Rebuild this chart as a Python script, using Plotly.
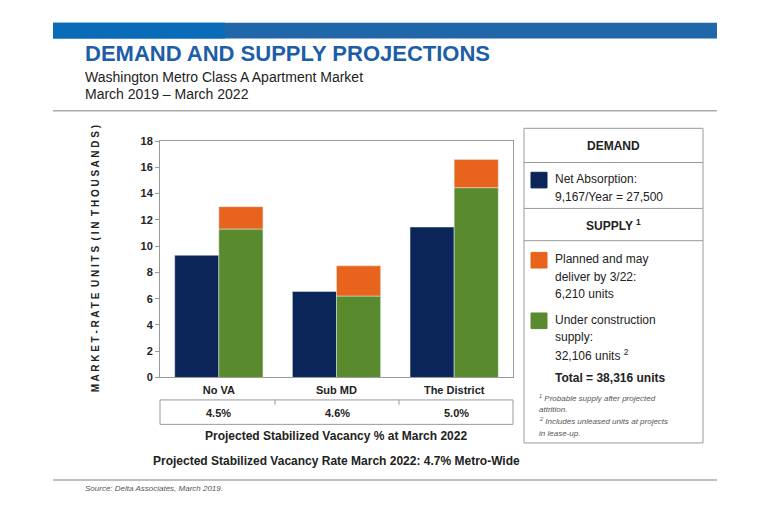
import plotly.graph_objects as go

W, H = 768, 523
categories = ["No VA", "Sub MD", "The District"]
net_absorption = [9.3, 6.55, 11.45]
under_construction = [11.3, 6.2, 14.45]
planned = [1.7, 2.3, 2.15]
vacancy = ["4.5%", "4.6%", "5.0%"]

NAVY = "#0b2559"
GREEN = "#5a8a2e"
ORANGE = "#e8631c"
FONT = "Liberation Sans, Arial"

# the page adds an 8px body margin, so shift everything back
def px(x):
    return (x - 8) / W

def py(y):
    return 1 - (y - 8) / H

fig = go.Figure()
fig.add_bar(x=categories, y=net_absorption, marker_color=NAVY, offsetgroup="a", showlegend=False)
fig.add_bar(x=categories, y=under_construction, marker_color=GREEN, offsetgroup="b", showlegend=False)
fig.add_bar(x=categories, y=planned, base=under_construction, marker_color=ORANGE, offsetgroup="b", showlegend=False)

shapes = []
ann = []

def rect(x0, y0, x1, y1, fill=None, line="#9a9a9a", lw=1):
    shapes.append(dict(type="rect", xref="paper", yref="paper", x0=px(x0), x1=px(x1), y0=py(y1), y1=py(y0),
                       fillcolor=fill or "rgba(0,0,0,0)", line=dict(color=line, width=lw), layer="below"))

def hline(x0, x1, y, color="#9a9a9a", lw=1):
    shapes.append(dict(type="line", xref="paper", yref="paper", x0=px(x0), x1=px(x1), y0=py(y), y1=py(y),
                       line=dict(color=color, width=lw)))

def text(x, y, t, size=12, color="#222", bold=False, xanchor="left", italic=False, textangle=0):
    if bold:
        t = "<b>" + t + "</b>"
    if italic:
        t = "<i>" + t + "</i>"
    ann.append(dict(xref="paper", yref="paper", x=px(x), y=py(y), text=t, showarrow=False, xanchor=xanchor,
                    yanchor="middle", align="left", textangle=textangle,
                    font=dict(size=size, color=color, family=FONT)))

# header band
rect(53, 17, 717, 33, fill="#2166a8", line="#2166a8", lw=0)
rect(53, 17, 225, 33, fill="#0a6cb8", line="#0a6cb8", lw=0)
hline(53, 717, 107, color="#aaaaaa", lw=1.5)
hline(53, 717, 485, color="#aaaaaa", lw=1.5)
text(83, 48, "DEMAND AND SUPPLY PROJECTIONS", size=22, color="#1d5ea8", bold=True)
text(83, 72, "Washington Metro Class A Apartment Market", size=14)
text(83, 90, "March 2019 – March 2022", size=14)
text(83, 494, "Source: Delta Associates, March 2019.", size=8, color="#555", italic=True)

# y axis title
text(95, 259, "M A R K E T - R A T E  U N I T S  ( I N  T H O U S A N D S )", size=10, bold=True,
     xanchor="center", textangle=-90)

# vacancy box
rect(160, 403, 513, 428)
for xv in (275, 399):
    shapes.append(dict(type="line", xref="paper", yref="paper", x0=px(xv), x1=px(xv), y0=py(403), y1=py(408),
                       line=dict(color="#9a9a9a", width=1)))
for xc, v in zip([218, 337, 456], vacancy):
    text(xc, 416, v, size=11, bold=True, xanchor="center")
text(336, 440, "Projected Stabilized Vacancy % at March 2022", size=12, bold=True, xanchor="center")
text(336, 465, "Projected Stabilized Vacancy Rate March 2022: 4.7% Metro-Wide", size=12, bold=True, xanchor="center")

# legend box
rect(524, 125, 703, 447)
hline(524, 703, 160)
hline(524, 703, 207)
hline(524, 703, 240)
text(613, 143, "DEMAND", size=12, bold=True, xanchor="center")
rect(531, 170, 547, 186, fill=NAVY, line=NAVY)
text(553, 177, "Net Absorption:", size=12)
text(553, 195, "9,167/Year = 27,500", size=12)
text(613, 224, "SUPPLY <sup>1</sup>", size=12, bold=True, xanchor="center")
rect(531, 252, 547, 268, fill=ORANGE, line=ORANGE)
text(553, 259, "Planned and may", size=12)
text(553, 277, "deliver by 3/22:", size=12)
text(553, 295, "6,210 units", size=12)
rect(531, 314, 547, 330, fill=GREEN, line=GREEN)
text(553, 321, "Under construction", size=12)
text(553, 339, "supply:", size=12)
text(553, 357, "32,106 units <sup>2</sup>", size=12)
text(553, 381, "Total = 38,316 units", size=12, bold=True)
text(537, 401, "<sup>1</sup> Probable supply after projected", size=8, color="#555", italic=True)
text(537, 413, "attrition.", size=8, color="#555", italic=True)
text(537, 425, "<sup>2</sup> Includes unleased units at projects", size=8, color="#555", italic=True)
text(537, 437, "in lease-up.", size=8, color="#555", italic=True)

fig.update_layout(
    width=W, height=H, margin=dict(l=0, r=0, t=0, b=0),
    paper_bgcolor="white", plot_bgcolor="white",
    barmode="group", bargap=0.25, bargroupgap=0,
    shapes=shapes, annotations=ann,
    font=dict(family=FONT, color="#222"),
    xaxis=dict(domain=[px(160), px(513)], showline=True, linecolor="#9a9a9a", mirror=True,
               tickfont=dict(size=11, family=FONT, color="#222"), ticks="", ticklabelstandoff=2),
    yaxis=dict(domain=[py(380), py(138)], range=[0, 18], dtick=2, showgrid=False, showline=True,
               linecolor="#9a9a9a", mirror=True, ticks="outside", ticklen=4, tickcolor="#9a9a9a",
               tickfont=dict(size=11, family=FONT, color="#222"), zeroline=False),
)
fig.update_xaxes(tickprefix="<b>", ticksuffix="</b>")
fig.update_yaxes(tickprefix="<b>", ticksuffix="</b>")
fig.write_html("out.html")
